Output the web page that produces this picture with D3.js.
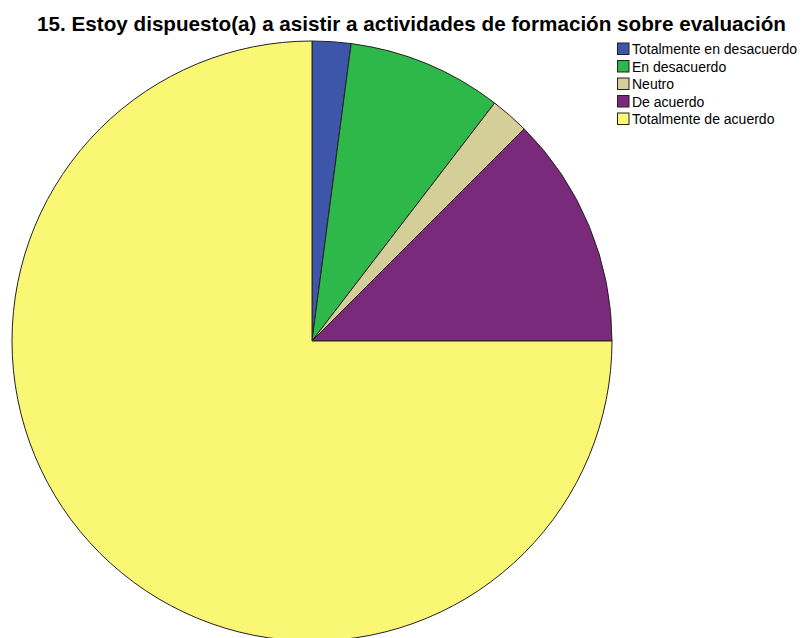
<!DOCTYPE html>
<html>
<head>
<meta charset="utf-8">
<script src="https://cdn.jsdelivr.net/npm/d3@7"></script>
<style>
  html, body { margin: 0; padding: 0; background: #fff; }
  svg { display: block; }
</style>
</head>
<body>
<svg id="chart" width="802" height="638"></svg>
<script>
// Response categories and counts (question 15)
const categories = ["Totalmente en desacuerdo", "En desacuerdo", "Neutro", "De acuerdo", "Totalmente de acuerdo"];
const counts = [1, 4, 1, 6, 36];
const colors = ["#3d56aa", "#2fb84a", "#d4cf99", "#7a2a7b", "#faf774"];
const title = "15. Estoy dispuesto(a) a asistir a actividades de formación sobre evaluación";

const svg = d3.select("#chart");
const cx = 312, cy = 341, radius = 300;

const data = categories.map((c, i) => ({ label: c, value: counts[i], color: colors[i] }));

const pie = d3.pie().value(d => d.value).sort(null);
const arc = d3.arc().innerRadius(0).outerRadius(radius);

svg.append("g")
  .attr("transform", `translate(${cx},${cy})`)
  .selectAll("path")
  .data(pie(data))
  .join("path")
  .attr("d", arc)
  .attr("fill", d => d.data.color)
  .attr("stroke", "#222")
  .attr("stroke-width", 1)
  .attr("stroke-linejoin", "round");

// Condensed bold title
svg.append("text")
  .attr("x", 37)
  .attr("y", 31)
  .attr("font-family", "'Liberation Sans', Arial, sans-serif")
  .attr("font-weight", "bold")
  .attr("font-size", 21)
  .attr("textLength", 749)
  .attr("lengthAdjust", "spacingAndGlyphs")
  .attr("fill", "#000")
  .text(title);

const legend = svg.append("g").attr("transform", "translate(617,42.5)");
const rows = legend.selectAll("g")
  .data(data)
  .join("g")
  .attr("transform", (d, i) => `translate(0,${i * 17.5})`);

rows.append("rect")
  .attr("x", 0.5).attr("y", 0.5)
  .attr("width", 11.5).attr("height", 11.5)
  .attr("fill", d => d.color)
  .attr("stroke", "#222")
  .attr("stroke-width", 1);

rows.append("text")
  .attr("x", 15)
  .attr("y", 11.5)
  .attr("font-family", "'Liberation Sans', Arial, sans-serif")
  .attr("font-size", 14)
  .attr("fill", "#000")
  .text(d => d.label);
</script>
</body>
</html>
